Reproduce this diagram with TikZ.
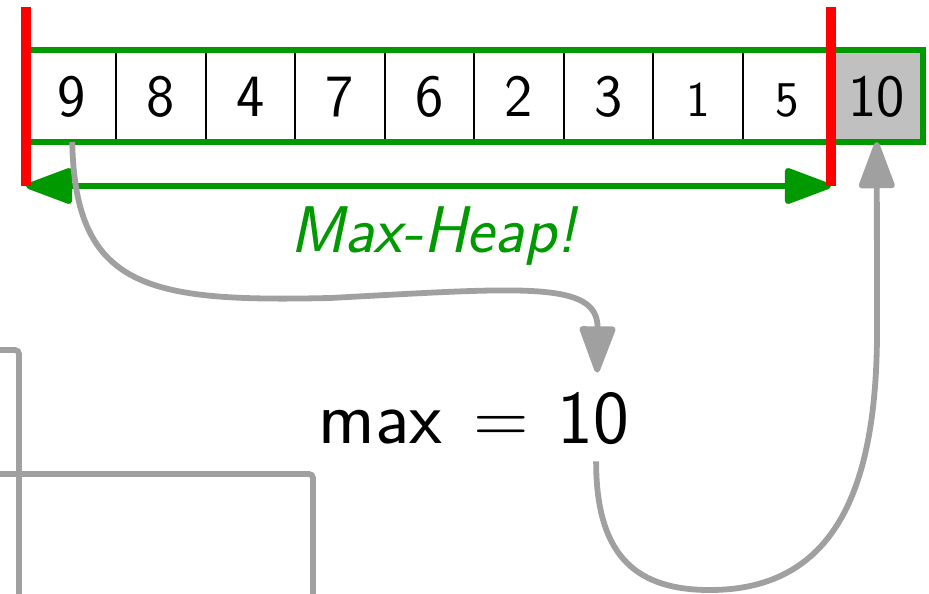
\documentclass[tikz,border=0pt]{standalone}
\usepackage{fontspec}
\usetikzlibrary{arrows.meta}
\definecolor{hgreen}{RGB}{0,153,0}
\definecolor{hgray}{RGB}{160,160,160}
\definecolor{cellgray}{RGB}{192,192,192}
\tikzset{
  cell/.style={draw=black, line width=1pt, minimum width=44.75pt, minimum height=45pt,
    inner sep=0pt, text height=21pt, text depth=0pt,
    font=\sffamily\fontsize{30}{36}\selectfont},
  smallcell/.style={cell, font=\sffamily\fontsize{25}{30}\selectfont},
  frame/.style={draw=hgreen, line width=3pt},
  redbar/.style={draw=red, line width=4.6pt},
  heaparrow/.style={draw=hgreen, line width=3pt,
    {Triangle[length=26pt,width=18.5pt,round]}-{Triangle[length=26pt,width=18.5pt,round]}},
  grayarrow/.style={draw=hgray, line width=2.9pt, -{Triangle[length=26pt,width=18.5pt,round]}},
  grayline/.style={draw=hgray, line width=2.9pt, rounded corners=2pt}
}
\begin{document}
\begin{tikzpicture}[x=0.5pt,y=-0.5pt]
\useasboundingbox (0,0) rectangle (929,593);
\clip (0,0) rectangle (929,593);
% partial boxes lower left
\draw[grayline] (-100,350) rectangle (19,700);
\draw[grayline] (-100,474) rectangle (313,700);
% cells
\node[cell] (c1) at (71.25,96) {9};
\node[cell] (c2) at (160.75,96) {8};
\node[cell] (c3) at (250.25,96) {4};
\node[cell] (c4) at (339.75,96) {7};
\node[cell] (c5) at (429.25,96) {6};
\node[cell] (c6) at (518.75,96) {2};
\node[cell] (c7) at (608.25,96) {3};
\node[smallcell] (c8) at (697.75,96) {1};
\node[smallcell] (c9) at (787.25,96) {5};
\node[cell, fill=cellgray] (c10) at (876.75,96) {10};
\draw[frame] (c1.north west) rectangle (c10.south east);
% heap bounds
\coordinate (redLtop) at (26,7);
\coordinate (redL) at (26,186);
\coordinate (redRtop) at (831,7);
\coordinate (redR) at (831,186);
\draw[heaparrow] (redL) -- (redR);
\draw[redbar] (redLtop) -- (redL);
\draw[redbar] (redRtop) -- (redR);
\node[anchor=base, text=hgreen, font=\sffamily\itshape\fontsize{33}{39}\selectfont] (heaplbl) at (433,252) {Max-Heap!};
% max = 10
\node[anchor=base west, inner sep=0pt, font=\sffamily\fontsize{38}{45}\selectfont] (maxlbl) at (318,443) {max\hspace{0.42em}=};
\node[anchor=base west, inner sep=9pt, text height=26pt, text depth=0pt, font=\sffamily\fontsize{38}{45}\selectfont] (maxval) at (539,443) {10};
% connectors
\draw[grayarrow] ([xshift=0.5pt]c1.south) .. controls (75,290) and (150,302) .. (330,298)
  .. controls (520,288) and (598,280) .. ([xshift=2pt]maxval.north);
\draw[grayarrow] ([xshift=1.5pt]maxval.south) .. controls (596,560) and (640,590) .. (710,590)
  .. controls (840,590) and (877,480) .. (877,330) -- (c10.south);
\end{tikzpicture}
\end{document}
